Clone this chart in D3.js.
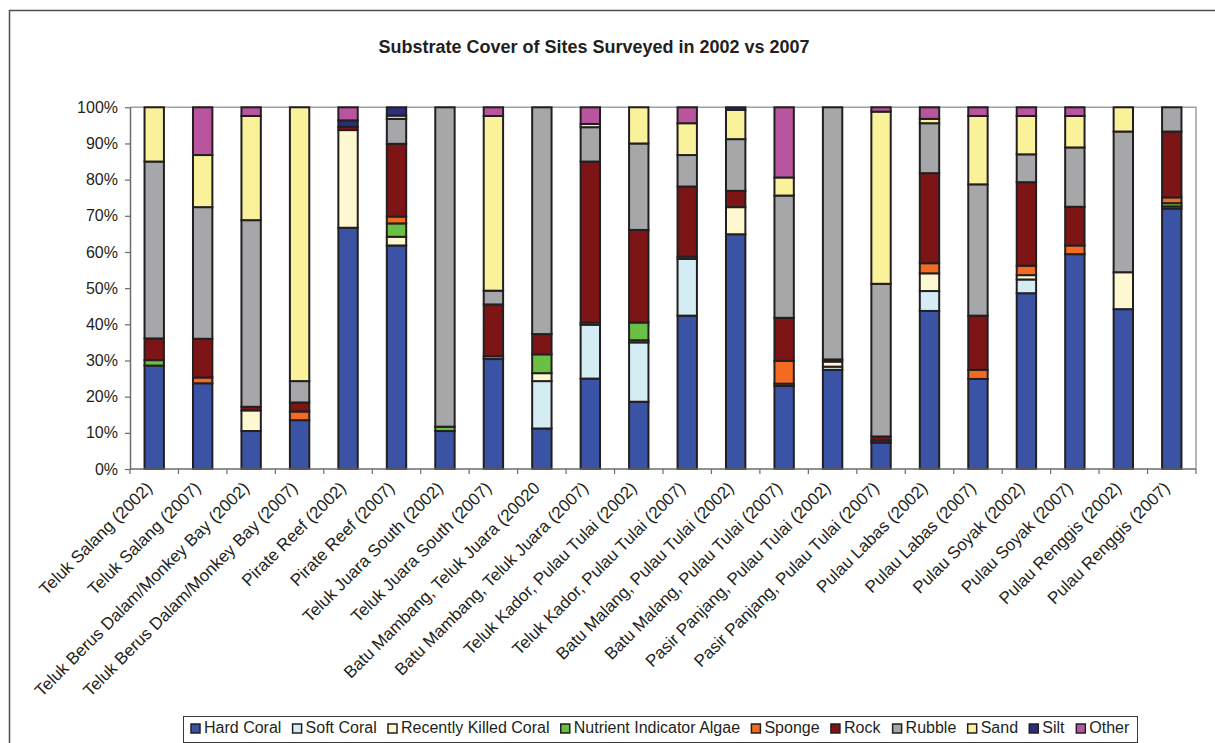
<!DOCTYPE html>
<html>
<head>
<meta charset="utf-8">
<script src="https://cdn.jsdelivr.net/npm/d3@7/dist/d3.min.js"></script>
<style>
  html, body { margin: 0; padding: 0; background: #fff; }
  svg { display: block; font-family: "Liberation Sans", Arial, sans-serif; }
</style>
</head>
<body>
<svg id="chart" width="1215" height="743"></svg>
<script>
// Sites surveyed (x categories)
const categories = [
  "Teluk Salang (2002)", "Teluk Salang (2007)",
  "Teluk Berus Dalam/Monkey Bay (2002)", "Teluk Berus Dalam/Monkey Bay (2007)",
  "Pirate Reef (2002)", "Pirate Reef (2007)",
  "Teluk Juara South (2002)", "Teluk Juara South (2007)",
  "Batu Mambang, Teluk Juara (20020", "Batu Mambang, Teluk Juara (2007)",
  "Teluk Kador, Pulau Tulai (2002)", "Teluk Kador, Pulau Tulai (2007)",
  "Batu Malang, Pulau Tulai (2002)", "Batu Malang, Pulau Tulai (2007)",
  "Pasir Panjang, Pulau Tulai (2002)", "Pasir Panjang, Pulau Tulai (2007)",
  "Pulau Labas (2002)", "Pulau Labas (2007)",
  "Pulau Soyak (2002)", "Pulau Soyak (2007)",
  "Pulau Renggis (2002)", "Pulau Renggis (2007)"
];

// Percentage cover per substrate type, one value per site
const hardCoral      = [28.6, 23.7, 10.5, 13.5, 66.7, 61.8, 10.5, 30.4, 11.2, 25.0, 18.6, 42.4, 64.9, 23.0, 27.4, 7.3, 43.7, 24.9, 48.6, 59.4, 44.2, 72.0];
const softCoral      = [0, 0, 0, 0, 0, 0, 0, 0, 13.1, 14.9, 16.4, 15.7, 0, 0, 0.9, 0, 5.5, 0, 3.8, 0, 0, 0];
const recentlyKilled = [0, 0, 5.7, 0, 27.0, 2.4, 0, 0, 2.2, 0.6, 0.6, 0.6, 7.5, 0.6, 1.4, 0, 4.9, 0, 1.2, 0, 10.2, 0.6];
const nutrientAlgae  = [1.5, 0, 0, 0, 0, 3.7, 1.2, 0, 5.2, 0, 4.9, 0, 0, 0, 0, 0, 0, 0, 0, 0, 0, 0.9];
const sponge         = [0, 1.6, 0, 2.4, 0, 1.9, 0, 0.8, 0, 0, 0, 0, 0, 6.3, 0, 0.6, 2.8, 2.5, 2.6, 2.4, 0, 1.6];
const rock           = [6.0, 10.7, 1.0, 2.5, 0.9, 20.1, 0, 14.3, 5.6, 44.5, 25.6, 19.4, 4.5, 11.9, 0.6, 1.1, 24.9, 15.0, 23.1, 10.7, 0, 18.2];
const rubble         = [48.9, 36.4, 51.6, 5.9, 0, 6.9, 88.3, 3.8, 62.7, 9.5, 23.9, 8.7, 14.3, 33.8, 69.7, 42.2, 13.8, 36.3, 7.7, 16.4, 38.9, 6.7];
const sand           = [15.0, 14.4, 28.8, 75.7, 0, 0.9, 0, 48.3, 0, 0.9, 10.0, 8.8, 8.1, 5.0, 0, 47.6, 1.2, 18.9, 10.6, 8.7, 6.7, 0];
const silt           = [0, 0, 0, 0, 1.8, 2.3, 0, 0, 0, 0, 0, 0, 0.7, 0, 0, 0, 0, 0, 0, 0, 0, 0];
const other          = [0, 13.2, 2.4, 0, 3.6, 0, 0, 2.4, 0, 4.6, 0, 4.4, 0, 19.4, 0, 1.2, 3.2, 2.4, 2.4, 2.4, 0, 0];

const seriesNames  = ["Hard Coral", "Soft Coral", "Recently Killed Coral", "Nutrient Indicator Algae",
                      "Sponge", "Rock", "Rubble", "Sand", "Silt", "Other"];
const seriesValues = [hardCoral, softCoral, recentlyKilled, nutrientAlgae, sponge, rock, rubble, sand, silt, other];
const seriesColors = ["#3a53a4", "#d4ecf4", "#fdf8d0", "#6abf45", "#f26b21",
                      "#7d1416", "#a6a7a9", "#faf29b", "#2b2e7a", "#b9559e"];

const yTicks = [0, 10, 20, 30, 40, 50, 60, 70, 80, 90, 100];

// Build a row-per-site table for d3.stack
const rows = categories.map((c, i) => {
  const r = { site: c };
  seriesNames.forEach((s, k) => { r[s] = seriesValues[k][i]; });
  return r;
});
const stacked = d3.stack().keys(seriesNames)(rows);

const svg = d3.select("#chart");
const plot = { left: 130, right: 1196, top: 107.3, bottom: 469 };

const x = d3.scaleBand().domain(categories).range([plot.left, plot.right]).paddingInner(0.6).paddingOuter(0.3);
const y = d3.scaleLinear().domain([0, 100]).range([plot.bottom, plot.top]);
const color = d3.scaleOrdinal().domain(seriesNames).range(seriesColors);

// Outer chart frame
svg.append("rect")
  .attr("x", 9.5).attr("y", 10.5).attr("width", 1230).attr("height", 800)
  .attr("fill", "none").attr("stroke", "#4d4d4d").attr("stroke-width", 1.5);

// Title
svg.append("text")
  .attr("x", 594).attr("y", 53)
  .attr("text-anchor", "middle")
  .attr("font-size", 18).attr("font-weight", "bold").attr("fill", "#231f20")
  .text("Substrate Cover of Sites Surveyed in 2002 vs 2007");

// Plot area border (top and right)
svg.append("path")
  .attr("d", `M${plot.left},${plot.top}H${plot.right}V${plot.bottom}`)
  .attr("fill", "none").attr("stroke", "#a0a0a0").attr("stroke-width", 1.5);

// Stacked bars
svg.append("g").selectAll("g")
  .data(stacked)
  .join("g")
    .attr("fill", d => color(d.key))
  .selectAll("rect")
  .data(d => d.filter(p => p[1] - p[0] > 0))
  .join("rect")
    .attr("x", d => x(d.data.site))
    .attr("width", x.bandwidth())
    .attr("y", d => y(d[1]))
    .attr("height", d => y(d[0]) - y(d[1]))
    .attr("stroke", "#231f20")
    .attr("stroke-width", 2);

// Y axis
const yAxis = svg.append("g")
  .attr("transform", `translate(${plot.left},0)`)
  .call(d3.axisLeft(y).tickValues(yTicks).tickSize(5).tickSizeOuter(0).tickFormat(d => d + "%"));
yAxis.select(".domain").attr("stroke", "#6b6b6b").attr("stroke-width", 1.5);
yAxis.selectAll(".tick line").attr("stroke", "#6b6b6b").attr("stroke-width", 1.2);
yAxis.selectAll(".tick text")
  .attr("x", -12).attr("font-size", 16).attr("fill", "#231f20")
  .attr("font-family", "Liberation Sans, Arial, sans-serif");

// X axis: ticks between categories
const step = x.step();
const xAxisG = svg.append("g");
xAxisG.append("line")
  .attr("x1", plot.left).attr("x2", plot.right)
  .attr("y1", plot.bottom).attr("y2", plot.bottom)
  .attr("stroke", "#6b6b6b").attr("stroke-width", 1.5);
xAxisG.selectAll("line.tk")
  .data(d3.range(categories.length + 1))
  .join("line").attr("class", "tk")
  .attr("x1", i => plot.left + i * step).attr("x2", i => plot.left + i * step)
  .attr("y1", plot.bottom).attr("y2", plot.bottom + 5)
  .attr("stroke", "#6b6b6b").attr("stroke-width", 1.2);

xAxisG.selectAll("text")
  .data(categories)
  .join("text")
  .attr("transform", d => `translate(${x(d) + x.bandwidth() / 2 - 1},${plot.bottom + 20}) rotate(-45)`)
  .attr("text-anchor", "end")
  .attr("font-size", 17).attr("fill", "#231f20")
  .text(d => d);

// Legend
const legend = { x: 183, y: 716, w: 954, h: 26 };
svg.append("rect")
  .attr("x", legend.x + 0.5).attr("y", legend.y + 0.5)
  .attr("width", legend.w).attr("height", legend.h)
  .attr("fill", "#fff").attr("stroke", "#3a3a3a").attr("stroke-width", 1);

const lg = svg.append("g");
const items = lg.selectAll("g").data(seriesNames).join("g");
items.append("rect")
  .attr("width", 9).attr("height", 9)
  .attr("fill", d => color(d)).attr("stroke", "#231f20").attr("stroke-width", 1.5);
items.append("text")
  .attr("x", 13).attr("y", 9)
  .attr("font-size", 16).attr("fill", "#231f20")
  .text(d => d);

// lay legend items out sequentially, spreading them across the box
const widths = [];
items.each(function () { widths.push(this.getBBox().width); });
const padL = 8, padR = 7;
const totalW = d3.sum(widths);
const gap = (legend.w - padL - padR - totalW) / (seriesNames.length - 1);
let cx = legend.x + padL;
items.attr("transform", (d, i) => {
  const t = `translate(${cx},${legend.y + 8})`;
  cx += widths[i] + gap;
  return t;
});
</script>
</body>
</html>
